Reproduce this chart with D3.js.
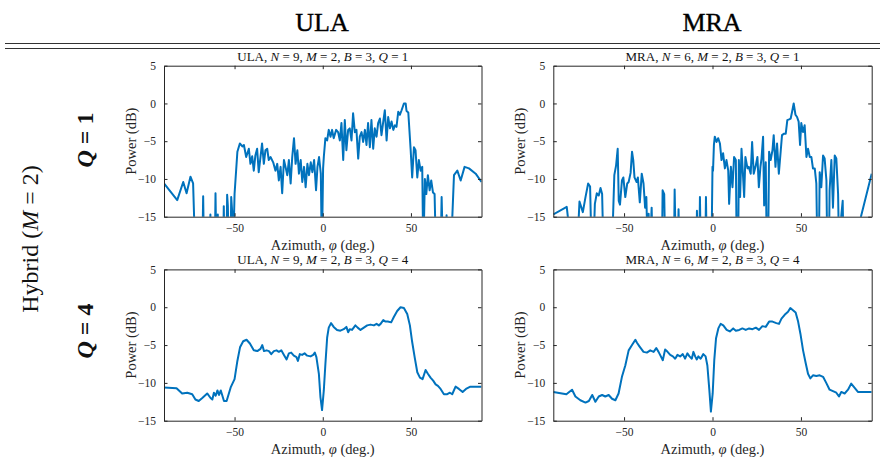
<!DOCTYPE html>
<html>
<head>
<meta charset="utf-8">
<script src="https://cdn.jsdelivr.net/npm/d3@7"></script>
<style>
  body { margin: 0; background: #fff; }
  svg { display: block; font-family: "Liberation Serif", serif; }
  text { white-space: pre; }
</style>
</head>
<body>
<svg id="chart" width="880" height="462"></svg>
<script>
// azimuth (deg.), power (dB); -20 marks a dip below the axis
const ulaQ1 = [[-90,-10.6],[-82.5,-12.8],[-79.1,-10.4],[-77.2,-11.9],[-75,-9.7],[-73.5,-10.6],[-72.3,-20],[-68.3,-20],[-67.8,-12.3],[-67.3,-20],[-64.1,-20],[-63.7,-14.7],[-63.3,-20],[-61.2,-20],[-60.8,-11.9],[-60.3,-20],[-59.5,-14.7],[-59,-20],[-56.5,-20],[-56.1,-13.6],[-55.7,-20],[-54.6,-20],[-54.2,-12.1],[-53.8,-13.6],[-53.3,-20],[-52.3,-20],[-51.9,-12.4],[-51.3,-14.5],[-50.8,-20],[-50,-12],[-48.4,-6.4],[-47,-5.3],[-45.6,-5.7],[-44.7,-5.5],[-43.4,-7.1],[-41.9,-6.0],[-41,-8.0],[-40,-7.0],[-39.1,-8.9],[-38.2,-6.9],[-37.2,-6.0],[-36.3,-9.1],[-35.3,-7.1],[-34.4,-5.3],[-33.4,-8.0],[-32.5,-6.2],[-31.5,-6.0],[-30.6,-7.5],[-29.6,-7.1],[-28.1,-7.8],[-26.8,-8.9],[-25.8,-8.0],[-24.9,-10.2],[-23.9,-8.4],[-23,-11.9],[-22,-7.5],[-21.1,-8.4],[-20.1,-9.5],[-19.2,-7.5],[-18.2,-10.6],[-17.3,-7.1],[-16.3,-4.6],[-15.4,-8.0],[-14.4,-6.2],[-13.5,-9.3],[-12.5,-7.5],[-11.6,-10.4],[-10.6,-8.4],[-9.7,-11.1],[-8.7,-8.0],[-7.8,-9.5],[-6.8,-7.8],[-5.9,-9.1],[-4.9,-7.5],[-3.8,-11.5],[-3.0,-8.4],[-2.1,-7.1],[-1.1,-9.3],[-0.5,-20],[0.2,-8.6],[0.6,-7.1],[1.5,-4.6],[2.5,-4.9],[3.4,-3.5],[4.4,-4.4],[5.3,-3.5],[6.2,-4.6],[7.6,-3.5],[8.7,-3.8],[9.7,-4.9],[10.6,-2.6],[11.6,-7.5],[12.5,-2.2],[13.4,-6.2],[14.4,-3.5],[15.3,-3.3],[16.3,-4.9],[17.2,-1.3],[18.2,-3.8],[19.1,-3.5],[20.1,-7.3],[21,-4.4],[22,-3.8],[22.9,-5.1],[23.9,-3.5],[24.8,-5.5],[25.7,-2.6],[26.7,-5.8],[27.6,-2.2],[28.6,-6.0],[29.5,-3.3],[30.5,-4.4],[31.4,-2.6],[32.4,-2.0],[33.3,-4.2],[34.3,-2.4],[35.2,-0.9],[36.2,-4.9],[37.1,-1.8],[38.1,-3.3],[39,-2.4],[40,-3.5],[40.9,-2.9],[41.8,-3.1],[42.8,-1.1],[43.7,-1.5],[44.7,-0.9],[46,0],[47,0],[47.5,-1.0],[48.5,-1.2],[49.8,-6.0],[50.7,-9.8],[51.7,-5.8],[52.6,-6.2],[53.6,-9.8],[54.5,-7.5],[55.5,-8.9],[56.4,-8.4],[57,-20],[57.9,-10],[58.7,-12],[59.6,-9.5],[60.6,-11.5],[61.5,-10.2],[62.5,-11.8],[63.4,-12],[64.2,-20],[66.8,-20],[67.4,-12.4],[68.2,-20],[69.8,-20],[70.2,-14.8],[70.6,-20],[72.6,-20],[74.4,-9.5],[76.3,-8.9],[78.2,-10.2],[80.4,-8.4],[82.9,-8.6],[86.7,-9.3],[90,-10.4]];

const mraQ1 = [[-90,-14.7],[-82.4,-13.7],[-79.4,-20],[-76.6,-20],[-75.2,-13],[-74.1,-13.8],[-73.3,-14.4],[-71.8,-12.4],[-70.3,-10.6],[-69.2,-11.0],[-68.3,-20],[-67.4,-20],[-66.5,-13.3],[-65.4,-11.9],[-64.3,-12.2],[-63.3,-11.2],[-62.4,-12],[-61.6,-20],[-56.9,-20],[-55.5,-9.5],[-54.5,-8.2],[-53.6,-6.0],[-53,-12.9],[-52.3,-13.4],[-51.2,-10.2],[-50.4,-9.8],[-49.3,-12.4],[-48.2,-10.6],[-47.4,-10.4],[-46.3,-9.2],[-45.5,-6.4],[-44.8,-7.5],[-44.1,-9.8],[-42.9,-10.4],[-42.2,-9.8],[-41.1,-13.1],[-40,-9.3],[-39,-10.6],[-38.1,-13.8],[-37.4,-12.4],[-36.6,-20],[-36.1,-14.6],[-35.5,-20],[-34.4,-13.8],[-33.8,-20],[-28.6,-20],[-28.2,-11.5],[-27.3,-12],[-26.7,-20],[-21.8,-20],[-21.4,-11.4],[-20.7,-20],[-19.6,-20],[-19.2,-14],[-18.6,-20],[-9.1,-20],[-8.8,-14.2],[-8.3,-20],[-7.5,-20],[-7.1,-12.4],[-6.6,-20],[-4.1,-20],[-3.7,-12.4],[-3.2,-20],[-0.6,-20],[0,-8.4],[0.3,-8.9],[0.8,-5.5],[1.3,-4.4],[2.3,-5.1],[3.2,-4.6],[4.2,-5.3],[5.1,-7.5],[6.0,-6.6],[7.0,-8.6],[7.9,-7.5],[8.9,-8.9],[9.4,-13.3],[10.4,-8.4],[11.3,-11.1],[12.2,-7.1],[13.2,-7.5],[13.7,-20],[14.5,-20],[14.9,-7.5],[15.6,-12.4],[16.4,-6.0],[17.1,-8.9],[17.9,-12.4],[18.6,-7.1],[19.8,-8.6],[20.5,-8.4],[21.6,-9.3],[22.4,-5.1],[23.3,-9.3],[24.3,-8.4],[25.4,-7.1],[26.2,-11.1],[27.1,-8.4],[27.7,-7.3],[28.6,-4.4],[29.2,-13.5],[30.1,-7.8],[30.7,-20],[31.4,-20],[32,-6.4],[32.9,-7.5],[33.9,-6.2],[34.6,-4.2],[35.6,-8.4],[36.5,-5.3],[37.5,-9.3],[38.6,-6.2],[39.3,-4.2],[40.5,-4.0],[41.4,-4.0],[42.3,-2.2],[43.3,-2.1],[44.2,-2.0],[45,-1.1],[45.9,0],[46.9,-1.5],[47.8,-1.8],[48.7,-2.4],[49.5,-5.5],[50.2,-2.6],[51.2,-3.8],[52.1,-2.9],[53.1,-7.1],[54,-6.0],[55,-7.1],[55.9,-7.1],[56.8,-8.6],[57.8,-8.6],[58.7,-10.6],[59.3,-20],[60.1,-20],[60.6,-9.1],[61.5,-11.1],[62.5,-6.9],[63.4,-7.3],[64.4,-10.2],[64.9,-20],[65.8,-20],[66.2,-11.5],[67.2,-7.5],[68.1,-13.8],[69.1,-6.9],[70,-7.3],[71,-12],[71.6,-20],[72.4,-20],[72.8,-14.9],[73.6,-12.9],[74.1,-20],[83.3,-20],[83.7,-15.2],[90,-9.3]];

const ulaQ4 = [[-90,-10.6],[-82.9,-10.7],[-79.7,-11.4],[-76.8,-11.3],[-74,-11.5],[-72.2,-12.2],[-70.3,-12.4],[-68.3,-12.0],[-65.5,-11.4],[-63.6,-12.0],[-62.6,-12.2],[-61.7,-11.3],[-60.7,-11.7],[-59.7,-11.0],[-58.8,-11.6],[-57.8,-11.0],[-56,-12.4],[-54.5,-12.4],[-52.2,-10.6],[-50,-9.5],[-48.4,-7.1],[-46.9,-5.3],[-45.1,-4.5],[-43.2,-4.3],[-41.3,-4.8],[-39.1,-5.7],[-37.1,-5.8],[-35.3,-5.5],[-34.3,-5.0],[-33.3,-5.8],[-31.8,-5.7],[-30.5,-5.8],[-29.2,-6.2],[-27.7,-5.8],[-26.2,-5.7],[-24.9,-5.9],[-23.5,-5.7],[-22,-6.3],[-20.5,-6.9],[-19.2,-6.1],[-17.9,-6.0],[-16.4,-6.4],[-14.9,-6.6],[-14.1,-7.1],[-13,-6.2],[-11.7,-6.3],[-10.3,-6.1],[-8.8,-6.4],[-6.9,-6.5],[-5.4,-6.3],[-4.5,-6.0],[-3.6,-6.6],[-2.2,-8.8],[-1.3,-11.9],[-0.4,-13.6],[0.6,-11.0],[1.5,-7.5],[2.5,-4.0],[3.4,-2.7],[4.7,-2.1],[6.2,-2.6],[8.1,-3.0],[10,-3.1],[11.9,-2.9],[13.4,-2.6],[14.4,-3.3],[15.3,-2.9],[16.6,-3.0],[18.5,-2.4],[19.8,-2.7],[21.4,-3.0],[23.3,-2.7],[25.2,-2.4],[27.1,-2.3],[29,-2.4],[30.5,-2.2],[31.8,-2.4],[32.8,-2.2],[34.3,-1.7],[35.6,-1.9],[36.9,-1.9],[38.8,-2.0],[40.3,-1.3],[42.2,-0.5],[44.1,0],[46,-0.1],[47.9,-0.9],[49.4,-2.4],[50.7,-4.6],[52.1,-6.6],[53.6,-8.6],[55.1,-9.3],[56.6,-9.5],[58.3,-8.3],[59.6,-8.8],[61.1,-9.3],[62.6,-9.7],[64,-10.2],[65.3,-10.4],[66.8,-10.8],[68.7,-11.5],[70.6,-11.5],[72.1,-11.3],[73.4,-11.5],[75.3,-10.5],[77.2,-10.8],[79.3,-11.2],[81.2,-10.8],[83.7,-10.5],[90,-10.5]];

const mraQ4 = [[-90,-11.2],[-82.6,-11.5],[-79.4,-10.9],[-77.5,-11.8],[-74.7,-12.3],[-71.8,-12.6],[-69.9,-12.4],[-68,-11.6],[-66.2,-12.5],[-64.3,-11.8],[-62.4,-11.6],[-60.6,-11.8],[-58.7,-11.6],[-56.8,-12.1],[-54.9,-12.3],[-53.1,-11.4],[-51.2,-9.2],[-49.3,-7.7],[-47.4,-5.7],[-45.5,-5.0],[-43.6,-4.3],[-42.7,-4.7],[-41.2,-5.2],[-39,-5.9],[-37.1,-6.0],[-35.2,-5.7],[-33.3,-5.9],[-31.8,-5.4],[-30.5,-5.9],[-29.2,-6.5],[-28.1,-7.0],[-26.8,-5.6],[-25.4,-5.9],[-23.9,-6.3],[-22.4,-6.5],[-21.1,-6.8],[-19.8,-6.3],[-18.3,-6.5],[-16.8,-6.2],[-15.5,-6.8],[-14.2,-6.1],[-13,-6.5],[-11.7,-6.8],[-10.8,-5.9],[-9.8,-6.5],[-8.9,-6.9],[-8,-6.5],[-6.7,-6.8],[-5.2,-6.2],[-3.9,-6.5],[-2.9,-7.7],[-1.8,-10.9],[-0.9,-13.8],[0.1,-11.4],[1.0,-7.0],[2.0,-4.1],[3.3,-2.8],[4.6,-2.2],[6.1,-2.4],[8,-3.0],[9.8,-3.2],[11.7,-2.8],[13.2,-3.1],[15.1,-3.0],[16.9,-2.8],[18.8,-3.0],[20.7,-2.8],[22.6,-2.9],[24.5,-2.7],[26.3,-3.0],[28.2,-2.5],[30.1,-2.6],[32,-1.9],[33.9,-1.9],[36.1,-2.1],[37.6,-2.2],[39,-1.5],[40.8,-1.0],[42.7,-0.6],[44,-0.1],[45.5,-0.4],[47,-0.7],[48.4,-1.9],[49.7,-3.5],[51.2,-5.7],[52.7,-7.4],[54,-8.8],[55.3,-9.4],[56.8,-9.0],[58.7,-9.1],[60.6,-9.0],[62.5,-9.2],[64.3,-10.0],[66.2,-10.9],[68.1,-11.1],[70,-11.3],[71.5,-11.8],[72.8,-11.2],[74.7,-11.4],[76.6,-10.9],[78.4,-10.1],[79.8,-10.5],[82.2,-11.2],[90,-11.2]];

const columnNames = ["ULA", "MRA"];
const arraySizes = [9, 6];
const qValues = [1, 4];
const xDomain = [-90, 90];
const yDomain = [-15, 5];
const xTicks = [-50, 0, 50];
const yTicks = [-15, -10, -5, 0, 5];

const seriesGrid = [[ulaQ1, mraQ1], [ulaQ4, mraQ4]];

const svg = d3.select("#chart");
const ink = "#262626";
const lineColor = "#0072BD";

// layout of the 2x2 grid
const colX = [[164, 481.5], [553.3, 871.7]];
const rowY = [[65.7, 216.7], [269.4, 420.7]];
const headerX = [322, 712];
const rowLabelY = [140, 331];

const fmt = d => d < 0 ? "\u2212" + Math.abs(d) : String(d);

// writes a line of text made of [string, italic] pieces
function richText(sel, pieces) {
  pieces.forEach(([s, it]) => {
    sel.append("tspan").attr("font-style", it ? "italic" : null).text(s);
  });
  return sel;
}

// column headers and the double rule
columnNames.forEach((name, c) => {
  svg.append("text")
     .attr("x", headerX[c]).attr("y", 31)
     .attr("text-anchor", "middle")
     .attr("font-size", 26)
     .attr("fill", "#000")
     .attr("stroke", "#000").attr("stroke-width", 0.35)
     .text(name);
});
svg.append("line").attr("x1", 5).attr("x2", 880).attr("y1", 43.5).attr("y2", 43.5)
   .attr("stroke", "#333").attr("stroke-width", 1.2);
svg.append("line").attr("x1", 5).attr("x2", 880).attr("y1", 48.5).attr("y2", 48.5)
   .attr("stroke", "#333").attr("stroke-width", 1.2);

// row labels
richText(svg.append("text")
   .attr("transform", "translate(38,239) rotate(-90)")
   .attr("text-anchor", "middle")
   .attr("font-size", 24)
   .attr("fill", "#111"), [["Hybrid (", 0], ["M", 1], [" = 2)", 0]]);

qValues.forEach((q, r) => {
  const t = svg.append("text")
     .attr("transform", `translate(93,${rowLabelY[r]}) rotate(-90)`)
     .attr("text-anchor", "middle")
     .attr("font-size", 24)
     .attr("font-weight", "bold")
     .attr("fill", "#111");
  richText(t, [["Q", 1], [" = " + q, 0]]);
});

seriesGrid.forEach((rowSeries, r) => {
  rowSeries.forEach((series, c) => {
    const [x0, x1] = colX[c];
    const [y0, y1] = rowY[r];
    const x = d3.scaleLinear().domain(xDomain).range([x0, x1]);
    const y = d3.scaleLinear().domain(yDomain).range([y1, y0]);
    const g = svg.append("g");

    const clipId = `clip-${r}-${c}`;
    g.append("clipPath").attr("id", clipId)
     .append("rect").attr("x", x0).attr("y", y0).attr("width", x1 - x0).attr("height", y1 - y0);

    g.append("path")
     .datum(series)
     .attr("clip-path", `url(#${clipId})`)
     .attr("fill", "none")
     .attr("stroke", lineColor)
     .attr("stroke-width", 2)
     .attr("stroke-linejoin", "round")
     .attr("d", d3.line().x(d => x(d[0])).y(d => y(d[1])));

    // box with inward ticks on all four sides
    const styleAxis = a => {
      a.select(".domain").attr("stroke", ink).attr("stroke-width", 1);
      a.selectAll(".tick line").attr("stroke", ink).attr("stroke-width", 1);
      a.selectAll(".tick text").attr("fill", ink)
       .attr("font-family", "Liberation Serif, serif").attr("font-size", 11.5);
    };
    g.append("g").attr("transform", `translate(0,${y1})`)
     .call(d3.axisBottom(x).tickValues(xTicks).tickFormat(fmt).tickSizeInner(-3.5).tickSizeOuter(0).tickPadding(7))
     .call(styleAxis);
    g.append("g").attr("transform", `translate(0,${y0})`)
     .call(d3.axisTop(x).tickValues(xTicks).tickFormat("").tickSizeInner(-3.5).tickSizeOuter(0))
     .call(styleAxis);
    g.append("g").attr("transform", `translate(${x0},0)`)
     .call(d3.axisLeft(y).tickValues(yTicks).tickFormat(fmt).tickSizeInner(-3.5).tickSizeOuter(0).tickPadding(8))
     .call(styleAxis);
    g.append("g").attr("transform", `translate(${x1},0)`)
     .call(d3.axisRight(y).tickValues(yTicks).tickFormat("").tickSizeInner(-3.5).tickSizeOuter(0))
     .call(styleAxis);

    // subplot title
    const n = arraySizes[c];
    richText(g.append("text")
       .attr("x", (x0 + x1) / 2).attr("y", y0 - 5)
       .attr("text-anchor", "middle")
       .attr("font-size", 13)
       .attr("fill", "#111"),
       [[columnNames[c] + ", ", 0], ["N", 1], [" = " + n + ", ", 0], ["M", 1], [" = 2, ", 0],
        ["B", 1], [" = 3, ", 0], ["Q", 1], [" = " + qValues[r], 0]]);

    // axis labels
    richText(g.append("text")
       .attr("x", (x0 + x1) / 2).attr("y", y1 + 33)
       .attr("text-anchor", "middle")
       .attr("font-size", 14.5)
       .attr("fill", ink),
       [["Azimuth, ", 0], ["\u03C6", 1], [" (deg.)", 0]]);
    g.append("text")
       .attr("transform", `translate(${x0 - 28},${(y0 + y1) / 2}) rotate(-90)`)
       .attr("text-anchor", "middle")
       .attr("font-size", 14.5)
       .attr("fill", ink)
       .text("Power (dB)");
  });
});
</script>
</body>
</html>
